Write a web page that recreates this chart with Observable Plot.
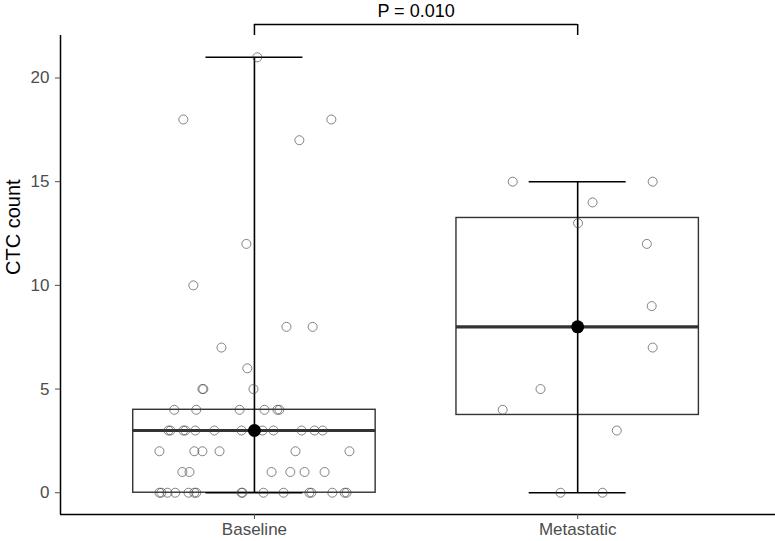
<!DOCTYPE html>
<html><head><meta charset="utf-8">
<script src="https://cdn.jsdelivr.net/npm/d3@7"></script>
<script src="https://cdn.jsdelivr.net/npm/@observablehq/plot@0.6"></script>
<style>body{margin:0;background:#fff;font-family:"Liberation Sans",Arial,sans-serif}</style>
</head><body><div id="chart"></div>
<script>
const groups = ["Baseline", "Metastatic"];
const baselineCounts = [
  0,0,0,0,0,0,0,0,0,0,0,0,0,0,0,0,
  1,1,1,1,1,1,
  2,2,2,2,2,2,
  3,3,3,3,3,3,3,3,3,3,3,3,
  4,4,4,4,4,4,
  5,5,5,
  6,7,8,8,10,12,17,18,18,21
];
const baselineJitter = [
  -0.294,-0.288,-0.269,-0.245,-0.204,-0.186,-0.180,-0.040,-0.037,0.028,0.090,0.170,0.176,0.241,0.279,0.285,
  -0.223,-0.201,0.053,0.111,0.155,0.217,
  -0.294,-0.186,-0.161,-0.108,0.127,0.294,
  -0.266,-0.260,-0.220,-0.214,-0.183,-0.124,-0.040,0.025,0.059,0.146,0.186,0.211,
  -0.248,-0.180,-0.046,0.031,0.071,0.077,
  -0.161,-0.158,-0.003,
  -0.022,-0.102,0.099,0.180,-0.189,-0.025,0.139,-0.220,0.238,0.009
];
const metastaticCounts = [15,15,14,13,12,9,7,5,4,3,0,0];
const metastaticJitter = [-0.201,0.232,0.046,0.001,0.214,0.229,0.232,-0.115,-0.232,0.121,-0.053,0.077];
const yTicks = [0, 5, 10, 15, 20];
const yLabel = "CTC count";
const pLabel = "P = 0.010";

const series = [baselineCounts, metastaticCounts];
const jitters = [baselineJitter, metastaticJitter];

const points = [];
series.forEach((vals, g) => vals.forEach((v, i) => points.push({x: g + 1 + jitters[g][i], y: v})));

const stats = series.map((vals, g) => {
  const s = vals.slice().sort(d3.ascending);
  return {
    pos: g + 1,
    min: d3.min(s), max: d3.max(s),
    q1: d3.quantile(s, 0.25), median: d3.quantile(s, 0.5), q3: d3.quantile(s, 0.75)
  };
});

const allMax = d3.max(stats, d => d.max);
const yMin = -0.05 * allMax, yMax = allMax * 1.05;
const pxPerUnit = (541 - 35 - 27) / (yMax - yMin);
const bracketY = yMax + 11 / pxPerUnit;
const bracketTextY = yMax + 24 / pxPerUnit;
const bracket = [{x1: 1, x2: 2, y: bracketY, label: pLabel}];

const boxHalf = 0.375, capHalf = 0.15;

const chart = Plot.plot({
  width: 775, height: 541,
  marginLeft: 60, marginRight: 0, marginTop: 35, marginBottom: 27,
  style: {fontFamily: '"Liberation Sans", Arial, sans-serif', background: "white"},
  x: {type: "linear", domain: [0.4, 2.612]},
  y: {domain: [yMin, yMax]},
  marks: [
    Plot.rect(stats, {x1: d => d.pos - boxHalf, x2: d => d.pos + boxHalf, y1: "q1", y2: "q3", fill: "white", stroke: "#333", strokeWidth: 1.4}),
    Plot.ruleX(stats, {x: "pos", y1: "min", y2: "max", stroke: "black", strokeWidth: 1.6}),
    Plot.ruleY(stats, {y: "min", x1: d => d.pos - capHalf, x2: d => d.pos + capHalf, stroke: "black", strokeWidth: 1.6}),
    Plot.ruleY(stats, {y: "max", x1: d => d.pos - capHalf, x2: d => d.pos + capHalf, stroke: "black", strokeWidth: 1.6}),
    Plot.ruleY(stats, {y: "median", x1: d => d.pos - boxHalf, x2: d => d.pos + boxHalf, stroke: "#333", strokeWidth: 3.2}),
    Plot.dot(points, {x: "x", y: "y", r: 4.5, fill: "none", stroke: "#444", strokeOpacity: 0.65, strokeWidth: 1}),
    Plot.dot(stats, {x: "pos", y: "median", r: 6.5, fill: "black"}),
    Plot.ruleX([0.4], {stroke: "black", strokeWidth: 1.5}),
    Plot.ruleY([yMin], {stroke: "black", strokeWidth: 1.5}),
    Plot.axisY({ticks: yTicks, tickSize: 5, tickPadding: 6, fontSize: 17, color: "#4d4d4d", label: null}),
    Plot.axisX({ticks: [1, 2], tickFormat: d => groups[d - 1], tickSize: 5, tickPadding: 3, fontSize: 17, color: "#4d4d4d", label: null}),
    Plot.text([yLabel], {frameAnchor: "left", rotate: -90, dx: -47, fontSize: 20, fill: "black"}),
    Plot.ruleY(bracket, {y: "y", x1: "x1", x2: "x2", stroke: "black", strokeWidth: 1.5}),
    Plot.ruleX(bracket, {x: "x1", y1: yMax, y2: "y", stroke: "black", strokeWidth: 1.5}),
    Plot.ruleX(bracket, {x: "x2", y1: yMax, y2: "y", stroke: "black", strokeWidth: 1.5}),
    Plot.text(bracket, {x: d => (d.x1 + d.x2) / 2, y: bracketTextY, text: "label", fontSize: 18, fill: "black"})
  ]
});
document.getElementById("chart").appendChild(chart);
</script>
</body></html>
